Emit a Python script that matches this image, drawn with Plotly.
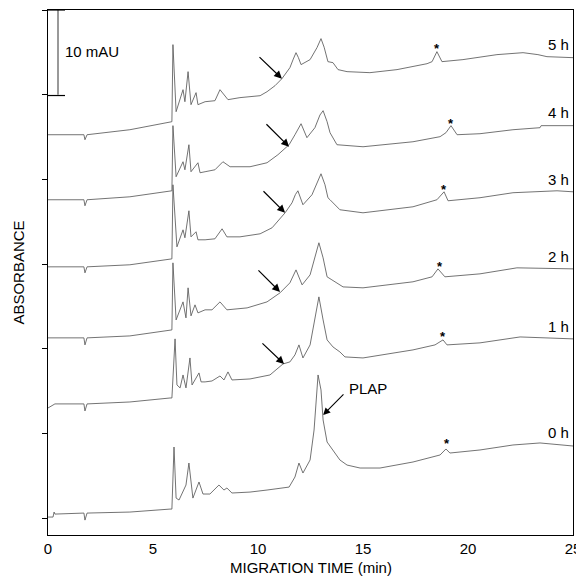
import plotly.graph_objects as go

# ---- data (migration time in min, absorbance in mAU incl. stacking offset) ----
t_5h = [0, 1.71, 1.76, 1.86, 3.90, 5.81, 5.90, 5.95, 6.10, 6.43, 6.52, 6.67, 6.81, 7.05, 7.14, 7.48, 7.95,
        8.19, 8.57, 9.14, 9.62, 10.10, 10.43, 10.81, 11.14, 11.52, 11.68, 11.81, 11.92, 12.05, 12.48, 12.70,
        12.81, 13.00, 13.15, 13.33, 13.57, 13.81, 14.24, 15.33, 16.62, 18.05, 18.29, 18.52, 18.76, 19.76,
        21.38, 22.62, 23.33, 23.76, 25.0]
a_5h = [45.27, 45.27, 44.68, 45.27, 45.86, 46.81, 46.81, 55.91, 47.99, 50.59, 49.17, 52.72, 48.82, 50.24, 48.82,
        49.17, 49.29, 50.59, 49.41, 49.65, 49.76, 49.88, 50.35, 51.06, 51.89, 53.19, 54.2, 54.96, 54.4, 53.55,
        54.14, 55.0, 55.56, 56.62, 55.6, 53.90, 53.78, 52.96, 52.72, 52.60, 52.96, 53.66, 53.90, 55.08, 53.90,
        54.14, 54.73, 54.96, 54.73, 54.49, 54.37]

t_4h = [0, 1.71, 1.76, 1.86, 3.90, 5.81, 5.90, 5.95, 6.10, 6.43, 6.52, 6.71, 6.81, 7.14, 7.24, 7.48, 7.95,
        8.33, 8.67, 9.62, 10.43, 10.95, 11.48, 11.76, 11.92, 12.05, 12.33, 12.71, 12.95, 13.10, 13.29, 13.43,
        13.76, 15.0, 17.38, 18.67, 18.95, 19.19, 19.48, 20.57, 22.14, 23.43, 23.48, 25.0]
a_4h = [37.59, 37.59, 36.88, 37.59, 37.94, 38.65, 38.65, 46.34, 40.31, 42.08, 41.13, 44.09, 40.90, 41.96, 40.78,
        40.90, 41.13, 42.08, 41.49, 41.49, 41.96, 42.91, 44.09, 45.27, 46.0, 46.57, 44.92, 46.10, 47.6, 48.11,
        46.81, 45.51, 44.09, 43.85, 44.44, 45.04, 45.51, 46.34, 45.27, 45.39, 45.86, 46.10, 46.34, 46.34]

t_3h = [0, 1.71, 1.76, 1.86, 3.90, 5.81, 5.90, 5.95, 6.14, 6.43, 6.52, 6.71, 6.81, 7.05, 7.14, 7.48, 7.95,
        8.29, 8.52, 9.14, 10.10, 10.67, 11.29, 11.62, 11.78, 11.90, 12.00, 12.14, 12.57, 12.85, 13.0, 13.19,
        13.33, 13.43, 13.90, 15.0, 17.38, 18.52, 18.86, 19.05, 20.57, 22.14, 24.24, 25.0]
a_3h = [29.67, 29.67, 28.96, 29.67, 29.91, 30.61, 30.61, 39.36, 32.03, 34.04, 33.10, 36.29, 33.21, 33.81, 32.86,
        32.86, 32.98, 34.16, 33.21, 33.21, 33.57, 34.28, 36.05, 37.23, 38.2, 38.65, 38.0, 37.00, 38.18, 39.9,
        40.66, 39.36, 37.83, 37.59, 36.41, 36.05, 36.76, 37.59, 38.53, 37.47, 37.83, 38.42, 38.65, 38.53]

t_2h = [0, 1.71, 1.76, 1.86, 3.90, 5.81, 5.90, 5.95, 6.10, 6.43, 6.57, 6.67, 6.81, 7.0, 7.14, 7.48, 7.81,
        8.19, 8.52, 9.48, 10.43, 11.05, 11.52, 11.81, 12.10, 12.48, 12.71, 12.90, 13.10, 13.29, 13.52, 14.05,
        15.0, 17.38, 18.29, 18.57, 18.90, 20.57, 22.33, 25.0]
a_2h = [21.28, 21.28, 20.45, 21.28, 21.51, 22.22, 22.22, 30.14, 23.40, 25.53, 23.64, 27.19, 23.88, 25.18, 24.23,
        24.59, 24.59, 25.53, 24.59, 24.82, 25.53, 26.60, 27.78, 29.31, 27.54, 28.72, 30.73, 32.51, 30.73, 28.49,
        28.13, 27.30, 27.19, 27.90, 28.49, 29.43, 28.49, 28.84, 29.55, 29.43]

t_1h = [0, 0.33, 1.71, 1.76, 1.86, 3.90, 5.81, 5.90, 6.05, 6.14, 6.29, 6.43, 6.57, 6.76, 6.86, 7.19, 7.29,
        7.48, 7.81, 8.19, 8.38, 8.57, 8.76, 9.62, 10.57, 11.19, 11.52, 11.76, 11.95, 12.14, 12.48, 12.71,
        12.90, 13.10, 13.29, 13.57, 13.90, 14.14, 15.0, 17.38, 18.43, 18.81, 19.0, 20.57, 22.48, 25.0]
a_1h = [13.00, 13.48, 13.48, 12.65, 13.48, 13.71, 14.18, 14.18, 21.16, 15.72, 15.37, 16.90, 15.37, 18.91, 15.72,
        17.14, 16.08, 16.08, 16.19, 16.78, 16.31, 17.26, 16.31, 16.43, 16.90, 18.20, 18.44, 19.27, 20.45, 18.91,
        20.45, 23.40, 26.12, 23.40, 21.04, 20.21, 19.62, 19.03, 18.91, 19.86, 20.45, 21.04, 20.45, 20.69, 21.39, 21.16]

t_0h = [0, 0.24, 0.29, 0.33, 1.71, 1.76, 1.86, 3.90, 5.81, 5.90, 6.0, 6.10, 6.24, 6.57, 6.71, 6.90, 7.19,
        7.38, 7.71, 8.14, 8.38, 8.52, 8.76, 9.62, 10.43, 11.19, 11.48, 11.76, 11.95, 12.14, 12.48, 12.67,
        12.86, 13.0, 13.10, 13.29, 13.57, 13.90, 14.24, 14.86, 15.81, 17.38, 18.67, 18.95, 19.14, 20.57,
        22.14, 23.43, 25.0]
a_0h = [0.12, 0.12, 0.71, 0.47, 0.59, -0.24, 0.59, 0.71, 1.06, 1.06, 8.39, 2.36, 2.13, 3.90, 6.50, 2.36, 4.26,
        2.84, 2.84, 3.90, 3.31, 3.55, 2.96, 3.07, 3.31, 3.55, 3.66, 4.85, 6.50, 5.32, 6.86, 10.40, 16.90,
        15.13, 11.58, 8.98, 8.04, 6.86, 6.26, 5.91, 5.91, 6.62, 7.45, 8.16, 7.68, 8.04, 8.63, 8.87, 8.51]

trace_times = [t_0h, t_1h, t_2h, t_3h, t_4h, t_5h]
trace_values = [a_0h, a_1h, a_2h, a_3h, a_4h, a_5h]

# right-hand labels
label_text = ["0 h", "1 h", "2 h", "3 h", "4 h", "5 h"]
label_y = [10.05, 22.58, 30.85, 39.95, 47.9, 55.9]

# asterisk positions (peak marked *)
star_t = [19.0, 18.81, 18.67, 18.86, 19.19, 18.52]
star_y = [8.8, 21.5, 29.7, 38.8, 46.6, 55.5]

# arrows (tail -> tip) for 1h..5h
arrow_tail_t = [10.14, 9.95, 10.19, 10.33, 10.0]
arrow_tail_y = [20.80, 29.43, 38.77, 46.69, 54.61]
arrow_tip_t = [11.24, 11.05, 11.29, 11.48, 11.14]
arrow_tip_y = [18.20, 26.71, 36.05, 43.85, 51.89]

# PLAP arrow
plap_tail = (14.14, 14.78)
plap_tip = (13.10, 12.17)
plap_text_pos = (14.24, 15.25)

x_ticks = [0, 5, 10, 15, 20, 25]
y_ticks = [0, 10, 20, 30, 40, 50, 60]

FONT = "Liberation Sans, Arial, sans-serif"

fig = go.Figure()
for t, a in zip(trace_times, trace_values):
    fig.add_trace(go.Scatter(x=t, y=a, mode="lines",
                             line=dict(color="#5a5a5a", width=0.85),
                             showlegend=False, hoverinfo="skip"))

ann = []
for txt, yy in zip(label_text, label_y):
    ann.append(dict(x=24.92, y=yy, xref="x", yref="y", text=txt, showarrow=False,
                    xanchor="right", yanchor="middle", font=dict(size=15, color="black", family=FONT)))
for st, sy in zip(star_t, star_y):
    ann.append(dict(x=st, y=sy, xref="x", yref="y", text="<b>*</b>", showarrow=False,
                    xanchor="center", yanchor="middle", font=dict(size=13, color="black", family=FONT)))
for tt, ty, pt, py in zip(arrow_tail_t, arrow_tail_y, arrow_tip_t, arrow_tip_y):
    ann.append(dict(x=pt, y=py, ax=tt, ay=ty, xref="x", yref="y", axref="x", ayref="y",
                    text="", showarrow=True, arrowhead=2, arrowsize=1.3, arrowwidth=1.2,
                    arrowcolor="black", standoff=0))
ann.append(dict(x=plap_tip[0], y=plap_tip[1], ax=plap_tail[0], ay=plap_tail[1], xref="x", yref="y",
                axref="x", ayref="y", text="", showarrow=True, arrowhead=2, arrowsize=1.3,
                arrowwidth=1.1, arrowcolor="black", standoff=0))
ann.append(dict(x=plap_text_pos[0], y=plap_text_pos[1], xref="x", yref="y", text="PLAP", showarrow=False,
                xanchor="left", yanchor="middle", font=dict(size=15, color="black", family=FONT)))
ann.append(dict(x=0.71, y=55.08, xref="x", yref="y", text="10 mAU", showarrow=False,
                xanchor="left", yanchor="middle", font=dict(size=15, color="black", family=FONT)))
ann.append(dict(x=-0.057, y=0.5, xref="paper", yref="paper", text="ABSORBANCE", showarrow=False,
                textangle=-90, xanchor="center", yanchor="middle",
                font=dict(size=15, color="black", family=FONT)))
ann.append(dict(x=0.5, y=-0.062, xref="paper", yref="paper", text="MIGRATION TIME (min)", showarrow=False,
                xanchor="center", yanchor="middle", font=dict(size=15, color="black", family=FONT)))

shapes = [
    dict(type="line", xref="x", yref="y", x0=0.476, x1=0.476, y0=60, y1=50, line=dict(color="#555", width=1.2)),
    dict(type="line", xref="x", yref="y", x0=0, x1=0.81, y0=60, y1=60, line=dict(color="black", width=1.2)),
    dict(type="line", xref="x", yref="y", x0=0, x1=0.81, y0=49.9, y1=49.9, line=dict(color="black", width=1.2)),
]

# the page body keeps its default 8 px margin; the figure is sized to end at the window edges
fig.update_layout(
    width=576, height=569,
    margin=dict(l=40, r=11, t=2, b=42),
    paper_bgcolor="white", plot_bgcolor="white",
    annotations=ann, shapes=shapes,
    font=dict(family=FONT, size=15, color="black"),
)
fig.update_xaxes(range=[0, 25], tickvals=x_ticks, ticks="", showgrid=False, zeroline=False,
                 showline=True, linecolor="black", linewidth=1, mirror=True, ticklabeloverflow="allow",
                 tickfont=dict(size=15, color="black", family=FONT))
fig.update_yaxes(range=[-2, 60], tickvals=y_ticks, ticks="outside", ticklen=5, tickcolor="black",
                 showticklabels=False, showgrid=False, zeroline=False,
                 showline=True, linecolor="black", linewidth=1, mirror=True)

fig.write_html("out.html")
